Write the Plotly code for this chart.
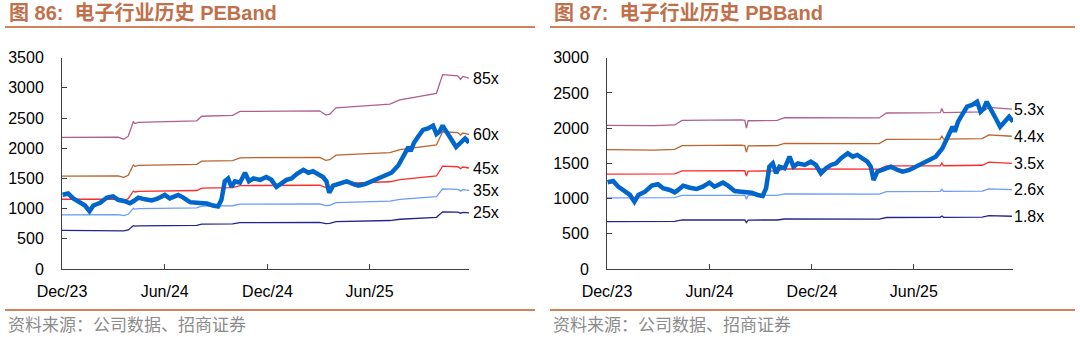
import plotly.graph_objects as go

# ---------------- data ----------------
# Electronics index (same series in both panels)
idx_dates = ["2023-12-02","2023-12-12","2023-12-21","2024-01-02","2024-01-11","2024-01-19","2024-01-26",
             "2024-02-07","2024-02-19","2024-03-01","2024-03-10","2024-03-22","2024-03-31","2024-04-06",
             "2024-04-15","2024-04-27","2024-05-09","2024-05-20","2024-06-01","2024-06-10","2024-06-25",
             "2024-07-04","2024-07-16","2024-07-28","2024-08-03","2024-08-15","2024-08-26","2024-09-04",
             "2024-09-10","2024-09-16","2024-09-22","2024-09-28","2024-10-04","2024-10-13","2024-10-22",
             "2024-10-29","2024-11-06","2024-11-18","2024-11-29","2024-12-08","2024-12-17","2024-12-26",
             "2025-01-04","2025-01-13","2025-01-22","2025-02-03","2025-02-12","2025-02-20","2025-03-01",
             "2025-03-10","2025-03-16","2025-03-21","2025-03-28","2025-04-06","2025-04-21","2025-05-03",
             "2025-05-12","2025-05-24","2025-06-04","2025-06-16","2025-06-28","2025-07-10","2025-07-22",
             "2025-07-31","2025-08-09","2025-08-13","2025-08-19","2025-08-26","2025-09-04","2025-09-13",
             "2025-09-22","2025-09-28","2025-10-04","2025-10-09","2025-10-16","2025-10-25","2025-11-02",
             "2025-11-09","2025-11-18","2025-11-25"]
idx_vals = [1231,1250,1169,1098,1051,956,1051,
            1098,1183,1203,1146,1122,1089,1122,
            1183,1154,1136,1169,1226,1169,1226,
            1183,1107,1098,1098,1084,1051,1037,
            1146,1453,1500,1359,1453,1430,1595,
            1453,1500,1477,1524,1477,1359,1430,
            1477,1500,1572,1643,1595,1619,1572,
            1524,1453,1264,1382,1406,1453,1406,
            1382,1406,1453,1500,1548,1595,1714,
            1856,2020,1950,2092,2187,2304,2329,
            2375,2234,2281,2375,2258,2140,2020,
            2092,2163,2092]

# PE band
pe_dates = ["2023-12-01","2024-03-10","2024-03-20","2024-03-28","2024-04-06","2024-04-09","2024-04-15",
            "2024-07-28","2024-08-06","2024-09-30","2024-10-13","2025-03-04","2025-03-15","2025-03-22",
            "2025-04-02","2025-07-07","2025-07-25","2025-09-28","2025-10-09","2025-11-05","2025-11-10",
            "2025-11-14","2025-11-25"]
pe_85x = [2181,2185,2150,2200,2440,2410,2430,2455,2530,2545,2610,2620,2550,2565,2670,2730,2800,2910,3220,3200,3140,3190,3160]
pe_60x = [1540,1542,1518,1553,1722,1701,1715,1733,1786,1796,1842,1849,1800,1811,1885,1927,1976,2054,2273,2259,2216,2252,2231]
pe_45x = [1155,1157,1138,1165,1292,1276,1286,1300,1339,1347,1382,1387,1350,1358,1414,1445,1482,1541,1705,1694,1662,1689,1673]
pe_35x = [898,900,885,906,1005,992,1001,1011,1042,1048,1075,1079,1050,1056,1099,1124,1153,1198,1326,1318,1293,1314,1301]
pe_25x = [641,643,632,647,718,709,715,722,744,749,768,771,750,754,785,803,824,856,947,941,924,938,929]

# PB band
pb_dates = ["2023-12-01","2024-02-24","2024-03-31","2024-04-13","2024-07-28","2024-08-03","2024-08-06",
            "2024-08-09","2024-09-30","2024-10-13","2025-03-31","2025-04-13","2025-07-18","2025-07-21",
            "2025-07-24","2025-10-01","2025-10-13","2025-11-10","2025-11-23"]
pb_53x = [2040,2035,2045,2110,2118,2112,2000,2105,2110,2150,2145,2215,2220,2280,2220,2230,2295,2280,2270]
pb_44x = [1694,1689,1698,1752,1758,1753,1660,1748,1752,1785,1781,1839,1843,1893,1843,1851,1905,1893,1885]
pb_35x = [1347,1344,1351,1393,1399,1395,1321,1390,1393,1420,1417,1463,1466,1506,1466,1473,1516,1506,1499]
pb_26x = [1011,1008,1013,1046,1050,1046,992,1044,1046,1067,1064,1099,1101,1131,1101,1106,1139,1131,1126]
pb_18x = [673,672,675,696,699,697,660,695,696,710,708,731,733,752,733,736,757,752,749]

x_ticks = ["2023-12-01","2024-06-01","2024-12-01","2025-06-01"]
x_ticktext = ["Dec/23","Jun/24","Dec/24","Jun/25"]

# ---------------- figure ----------------
W, H = 1080, 337
band_colors = ["#B0608F", "#B8652F", "#FF2A2A", "#6A9BFF", "#24248F"]
main_color = "#0066CC"

fig = go.Figure()

pe_bands = [("85x", pe_85x), ("60x", pe_60x), ("45x", pe_45x), ("35x", pe_35x), ("25x", pe_25x)]
pb_bands = [("5.3x", pb_53x), ("4.4x", pb_44x), ("3.5x", pb_35x), ("2.6x", pb_26x), ("1.8x", pb_18x)]

annotations = []
for (lab, vals), col in zip(pe_bands, band_colors):
    fig.add_trace(go.Scatter(x=pe_dates, y=vals, mode="lines", line=dict(color=col, width=1.3),
                             xaxis="x", yaxis="y", showlegend=False, hoverinfo="skip"))
    annotations.append(dict(x=pe_dates[-1], y=vals[-1], xref="x", yref="y", text=lab, showarrow=False,
                            xanchor="left", yanchor="middle", xshift=2,
                            font=dict(family="Liberation Sans, Arial", size=16, color="#000000")))
fig.add_trace(go.Scatter(x=idx_dates, y=idx_vals, mode="lines", line=dict(color=main_color, width=4.5),
                         xaxis="x", yaxis="y", showlegend=False, hoverinfo="skip"))

for (lab, vals), col in zip(pb_bands, band_colors):
    fig.add_trace(go.Scatter(x=pb_dates, y=vals, mode="lines", line=dict(color=col, width=1.3),
                             xaxis="x2", yaxis="y2", showlegend=False, hoverinfo="skip"))
    annotations.append(dict(x=pb_dates[-1], y=vals[-1], xref="x2", yref="y2", text=lab, showarrow=False,
                            xanchor="left", yanchor="middle", xshift=0,
                            font=dict(family="Liberation Sans, Arial", size=16, color="#000000")))
fig.add_trace(go.Scatter(x=idx_dates, y=idx_vals, mode="lines", line=dict(color=main_color, width=4.5),
                         xaxis="x2", yaxis="y2", showlegend=False, hoverinfo="skip"))

def px(x):
    return x / W

def py(y):
    return 1 - y / H

tick_font = dict(family="Liberation Sans, Arial", size=16, color="#000000")
axis_col = "#404040"

xcommon = dict(type="date", range=["2023-12-01", "2025-11-25"], tickvals=x_ticks, ticktext=x_ticktext,
               ticks="inside", ticklen=5, tickcolor=axis_col, showline=True, linecolor=axis_col, linewidth=1,
               showgrid=False, zeroline=False, tickfont=tick_font, ticklabelstandoff=8, fixedrange=True,
               automargin=False)
ycommon = dict(dtick=500, ticks="inside", ticklen=5, tickcolor=axis_col, showline=True, linecolor=axis_col,
               linewidth=1, showgrid=False, zeroline=False, tickfont=tick_font, ticklabelstandoff=14,
               fixedrange=True, automargin=False)

title_font = dict(family="Liberation Sans, Noto Sans CJK SC", size=20, color="#C0704A")
src_font = dict(family="Noto Sans CJK SC", size=17, color="#8C8C8C")

annotations += [
    dict(x=px(7), y=py(13), xref="paper", yref="paper", text="<b>图 86:  电子行业历史 PEBand</b>",
         showarrow=False, xanchor="left", yanchor="middle", font=title_font),
    dict(x=px(552), y=py(13), xref="paper", yref="paper", text="<b>图 87:  电子行业历史 PBBand</b>",
         showarrow=False, xanchor="left", yanchor="middle", font=title_font),
    dict(x=px(6), y=py(323), xref="paper", yref="paper", text="资料来源：公司数据、招商证券",
         showarrow=False, xanchor="left", yanchor="middle", font=src_font),
    dict(x=px(551), y=py(323), xref="paper", yref="paper", text="资料来源：公司数据、招商证券",
         showarrow=False, xanchor="left", yanchor="middle", font=src_font),
]

line_col = "#D4825C"
shapes = []
for (x0, x1) in [(5, 535), (550, 1075)]:
    for yy in (27, 310):
        shapes.append(dict(type="line", xref="paper", yref="paper", x0=px(x0), x1=px(x1),
                           y0=py(yy), y1=py(yy), line=dict(color=line_col, width=2)))

fig.update_layout(
    width=W, height=H, autosize=False,
    margin=dict(l=0, r=0, t=0, b=0, pad=0, autoexpand=False),
    paper_bgcolor="white", plot_bgcolor="white",
    showlegend=False,
    xaxis=dict(domain=[px(62), px(469)], anchor="y", **xcommon),
    yaxis=dict(domain=[py(269), py(57.7)], anchor="x", range=[0, 3500], **ycommon),
    xaxis2=dict(domain=[px(607), px(1013)], anchor="y2", **xcommon),
    yaxis2=dict(domain=[py(269), py(57.7)], anchor="x2", range=[0, 3000], **ycommon),
    annotations=annotations,
    shapes=shapes,
)

fig.write_html("out.html")
